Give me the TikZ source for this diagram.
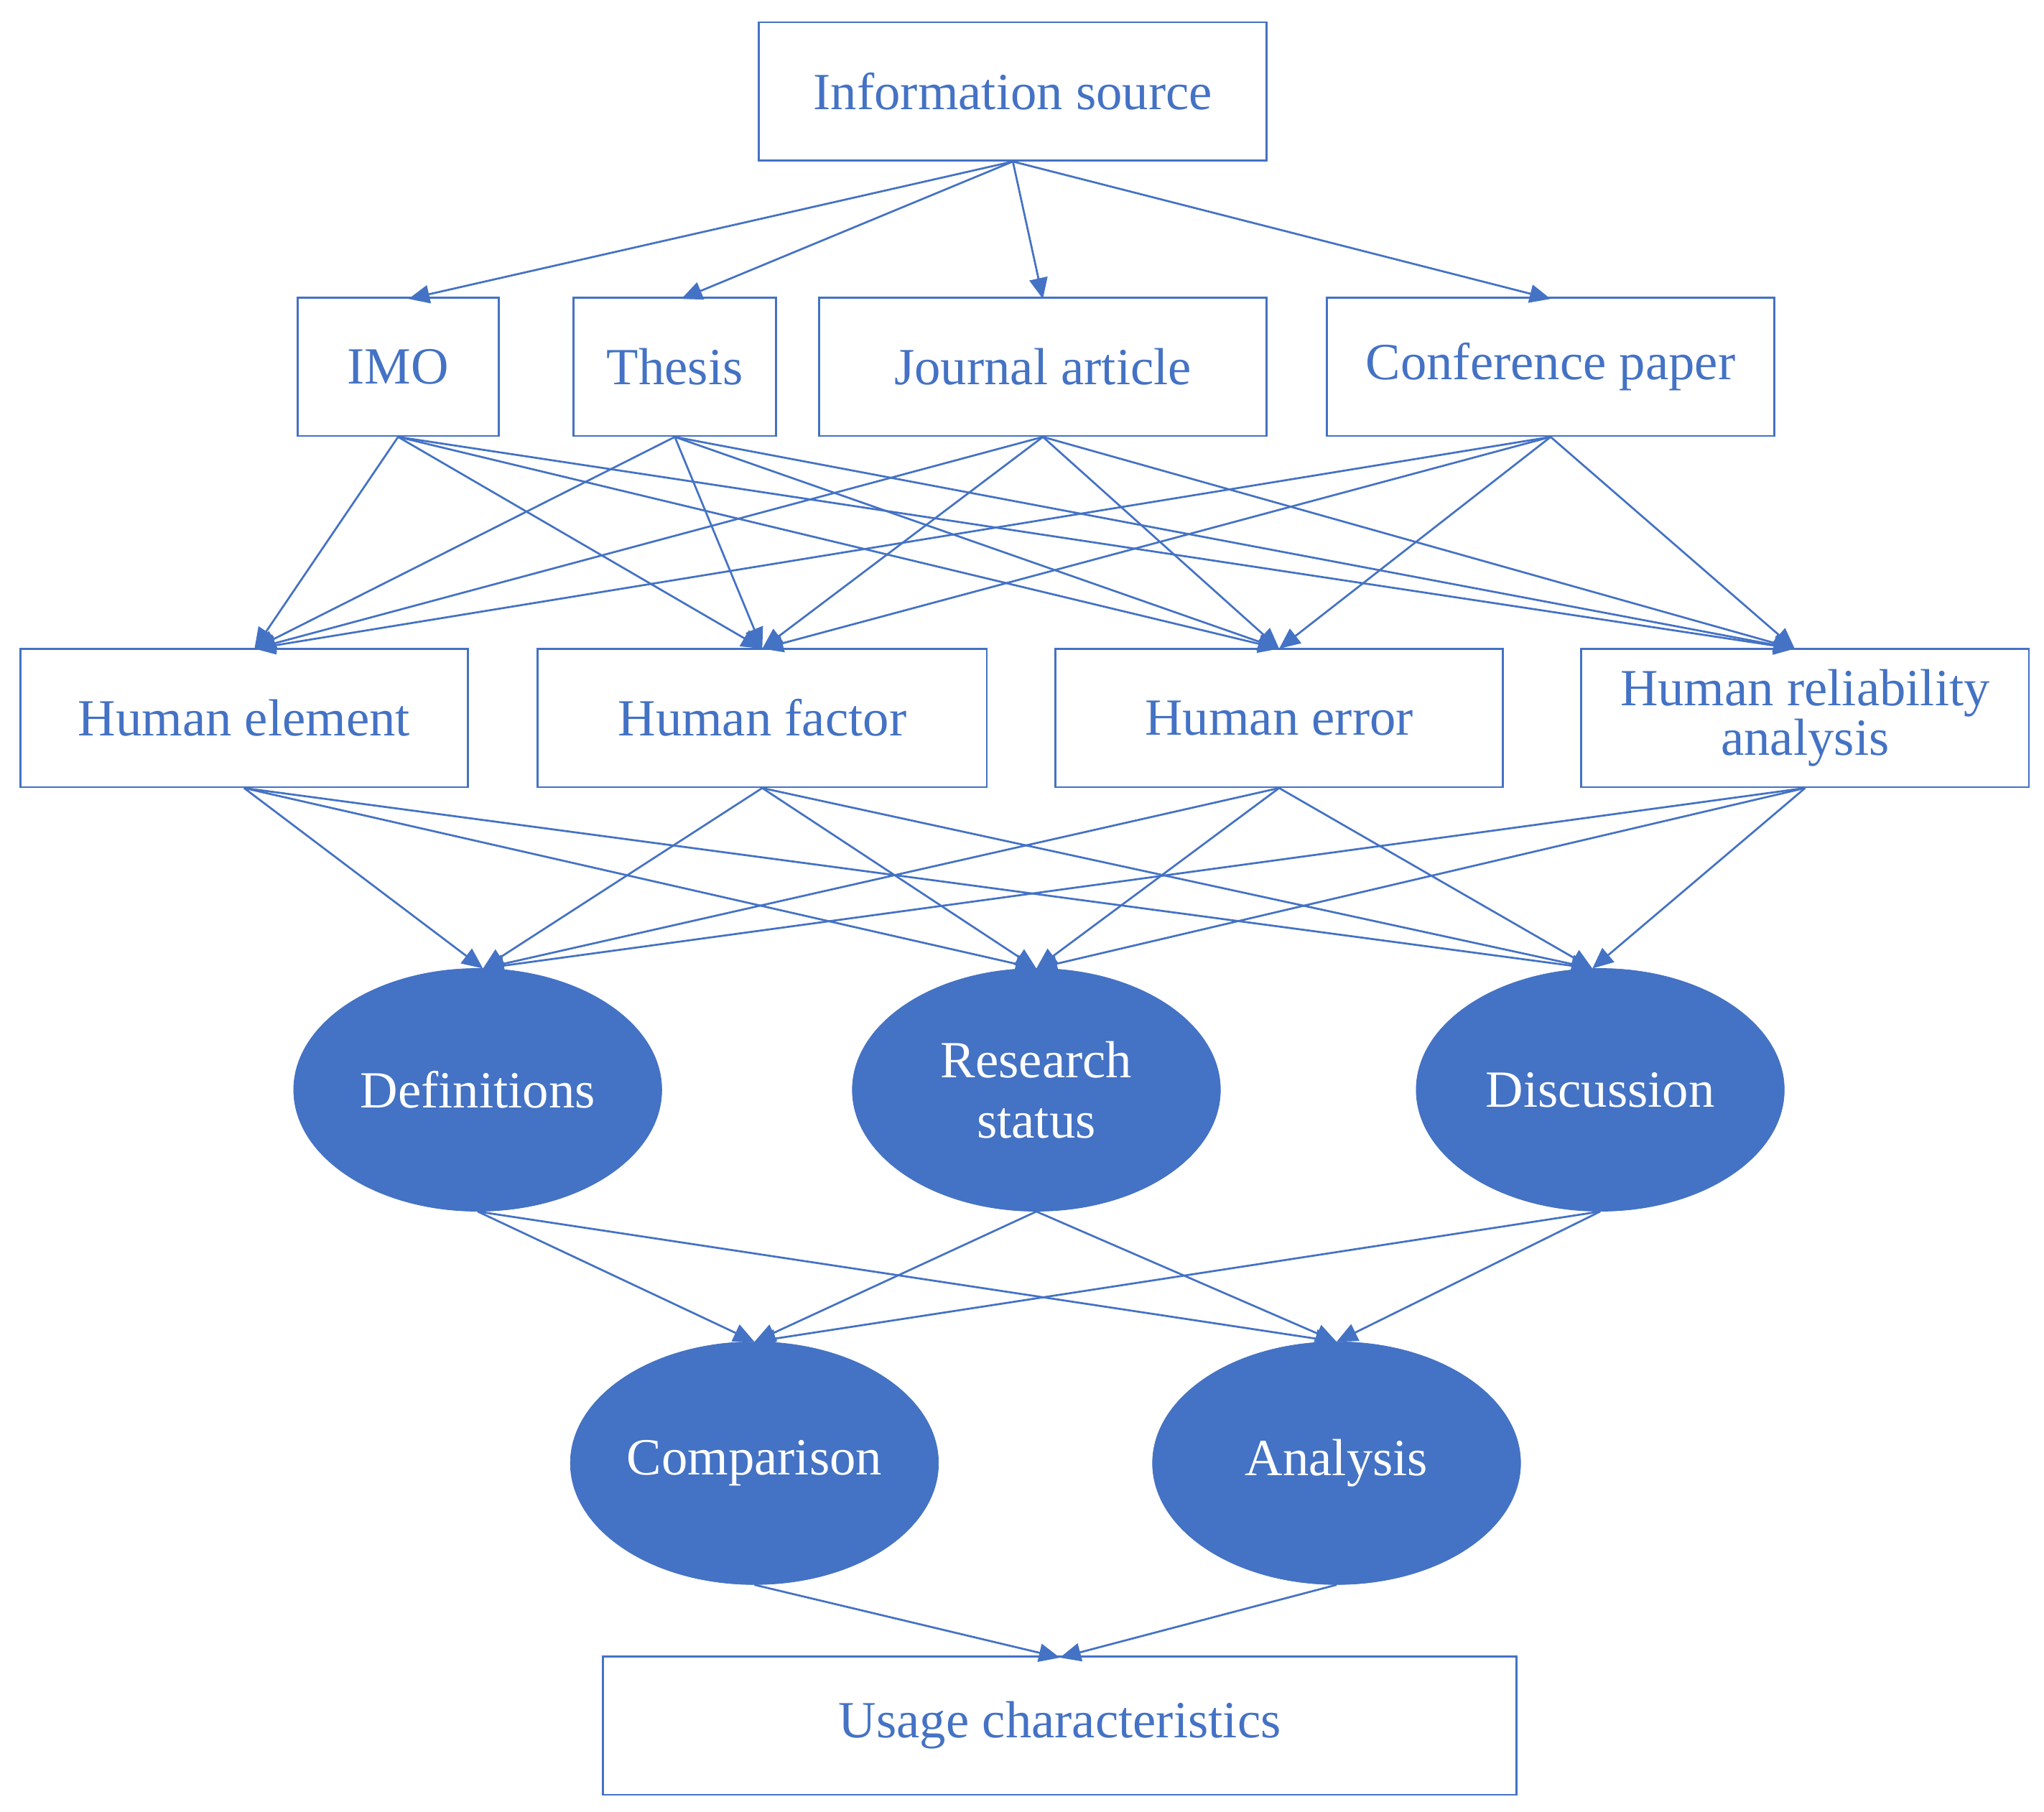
\documentclass[tikz,border=0pt]{standalone}
\usepackage{fontspec}
\setmainfont{Liberation Serif}
\usetikzlibrary{arrows.meta,shapes.geometric}
\definecolor{mblue}{HTML}{4472C4}
\begin{document}
\begin{tikzpicture}[x=1pt,y=-1pt,
  box/.style={draw=mblue,line width=1.5pt,rectangle,minimum height=106pt,inner sep=0pt,text=mblue,font=\fontsize{40}{44}\selectfont,align=center},
  ell/.style={ellipse,fill=mblue,draw=mblue,minimum width=282pt,minimum height=186pt,inner sep=0pt,text=white,font=\fontsize{40}{46}\selectfont,align=center},
  arr/.style={draw=mblue,line width=1.5pt,-{Triangle[length=16pt,width=14pt]}}]
\useasboundingbox (0,0) rectangle (1566,1388);
\node[box,minimum width=389pt] (src) at (776,70) {Information source};
\node[box,minimum width=154pt] (imo) at (305,281) {IMO};
\node[box,minimum width=155pt] (the) at (517,281) {Thesis};
\node[box,minimum width=343pt] (jou) at (799,281) {Journal article};
\node[box,minimum width=343pt] (con) at (1188,281) {Conference paper};
\node[box,minimum width=343pt] (hel) at (187,550) {Human element};
\node[box,minimum width=344pt] (hfa) at (584,550) {Human factor};
\node[box,minimum width=343pt] (her) at (980,550) {Human error};
\node[box,minimum width=343pt] (hra) at (1383,550) {Human reliability\\[-6pt]analysis};
\node[ell] (def) at (366,835) {Definitions};
\node[ell] (res) at (794,835) {Research\\status};
\node[ell] (dis) at (1226,835) {Discussion};
\node[ell] (cmp) at (578,1121) {Comparison};
\node[ell] (ana) at (1024,1121) {Analysis};
\node[box,minimum width=700pt] (use) at (812,1322) {Usage characteristics};
\coordinate (t1) at (313,229); \coordinate (t2) at (522,229);
\coordinate (t3) at (799,229); \coordinate (t4) at (1188,229);
\foreach \t in {t1,t2,t3,t4} \draw[arr] (src.south) -- (\t);
\coordinate (h1) at (195,497); \coordinate (h2) at (584,497);
\coordinate (h3) at (980,497); \coordinate (h4) at (1375,497);
\foreach \s in {imo,the,jou,con} \foreach \t in {h1,h2,h3,h4} \draw[arr] (\s.south) -- (\t);
\coordinate (e1) at (370,742); \coordinate (e2) at (794,742); \coordinate (e3) at (1220,742);
\foreach \s in {hel,hfa,her,hra} \foreach \t in {e1,e2,e3} \draw[arr] (\s.south) -- (\t);
\coordinate (c1) at (578,1028); \coordinate (c2) at (1024,1028);
\foreach \s in {def,res,dis} \foreach \t in {c1,c2} \draw[arr] (\s.south) -- (\t);
\coordinate (u1) at (812,1270);
\foreach \s in {cmp,ana} \draw[arr] (\s.south) -- (u1);
\end{tikzpicture}
\end{document}
